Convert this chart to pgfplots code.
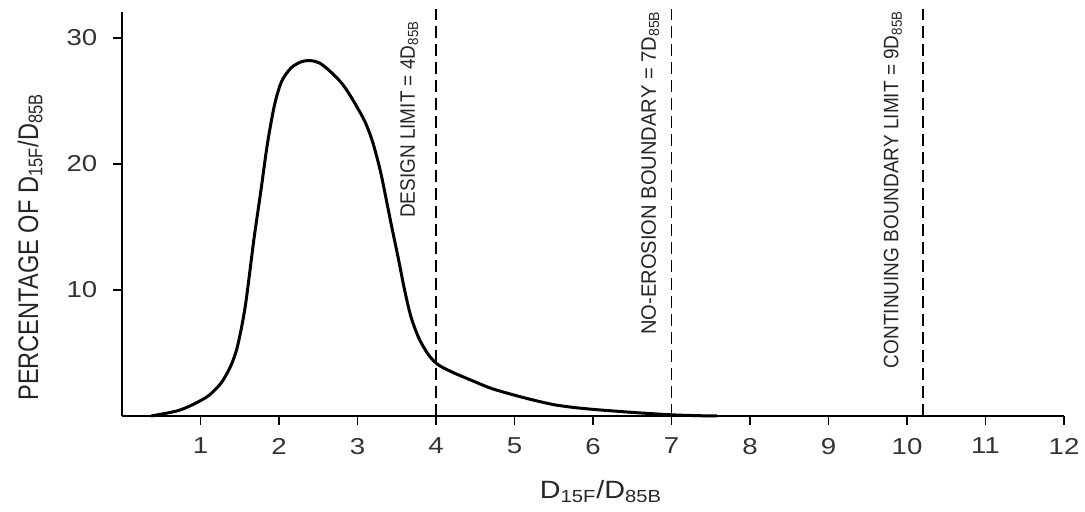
\documentclass[border=0pt]{standalone}
\usepackage{pgfplots}
\pgfplotsset{compat=1.18}
\usepackage{fontspec}
\setmainfont{Liberation Sans}
\begin{document}
\begin{tikzpicture}
\begin{axis}[
  scale only axis, width=471pt, height=202pt,
  xmin=0, xmax=12, ymin=0, ymax=32.06,
  axis x line*=bottom, axis y line*=left,
  axis line style={line width=0.9pt, -},
  xtick={1,2,3,4,5,6,7,8,9,10,11,12},
  ytick={10,20,30},
  tick align=outside, major tick length=4.5pt,
  tick style={line width=0.9pt, black},
  /pgf/number format/assume math mode=true,
  tick label style={font=\fontsize{11.5}{13}\selectfont, xscale=1.2, text=black!80},
  xticklabel style={yshift=-3pt},
  yticklabel style={xshift=-3pt},
  clip=false,
]
\addplot[black, line width=1.5pt, smooth, tension=0.5] coordinates {
(0.37,0) (0.7,0.4) (0.9,0.9) (1.1,1.6) (1.26,2.6) (1.38,3.9) (1.47,5.5)
(1.57,8.7) (1.68,14.0) (1.77,17.9) (1.85,21.5) (1.94,24.6) (2.03,26.5)
(2.15,27.6) (2.28,28.1) (2.40,28.2) (2.52,28.0) (2.66,27.3) (2.80,26.4)
(2.91,25.4) (3.05,23.9) (3.12,23.0) (3.20,21.6) (3.30,19.2) (3.42,15.5) (3.52,12.5)
(3.60,10.0) (3.68,7.9) (3.78,6.2) (3.90,4.9) (4.02,4.1) (4.2,3.5)
(4.44,2.86) (4.7,2.2) (4.99,1.67) (5.25,1.25) (5.5,0.9) (5.75,0.68)
(6.01,0.52) (6.3,0.38) (6.56,0.26) (6.98,0.1) (7.3,0.03) (7.58,0)
};
\addplot[black, line width=0.9pt, dash pattern=on 6pt off 3pt] coordinates {(4,0) (4,32.3)};
\addplot[black, line width=0.9pt, dash pattern=on 6pt off 3pt] coordinates {(7,0) (7,32.3)};
\addplot[black, line width=0.9pt, dash pattern=on 6pt off 3pt] coordinates {(10.2,0) (10.2,32.3)};
\node[xscale=1.1, rotate=90, anchor=east, inner sep=0pt, font=\fontsize{9.5}{11}\selectfont, text=black!85] at (axis cs:3.66,31.4) {DESIGN LIMIT = 4D$_{\mathrm{85B}}$};
\node[xscale=1.1, rotate=90, xscale=1.06, anchor=east, inner sep=0pt, font=\fontsize{9.5}{11}\selectfont, text=black!85] at (axis cs:6.73,32.2) {NO-EROSION BOUNDARY = 7D$_{\mathrm{85B}}$};
\node[xscale=1.1, rotate=90, anchor=east, inner sep=0pt, font=\fontsize{9.5}{11}\selectfont, text=black!85] at (axis cs:9.82,32.2) {CONTINUING BOUNDARY LIMIT = 9D$_{\mathrm{85B}}$};
\end{axis}
\node[xscale=1.2, rotate=90, font=\fontsize{11.8}{13}\selectfont, text=black!85] at (-46pt,84.5pt) {PERCENTAGE OF D\textsubscript{15F}/D\textsubscript{85B}};
\node[xscale=1.15, font=\fontsize{12.5}{14}\selectfont, text=black!85] at (239.5pt,-38pt) {D\textsubscript{15F}/D\textsubscript{85B}};
\pgfresetboundingbox
\path[use as bounding box] (-61pt,-48pt) rectangle (481.5pt,208pt);
\end{tikzpicture}
\end{document}
